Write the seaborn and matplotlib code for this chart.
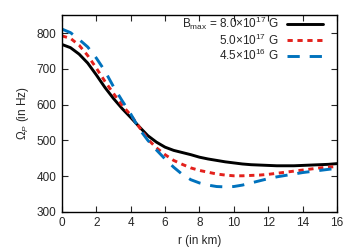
"""Rotation frequency profile for different central magnetic fields."""

import matplotlib

matplotlib.use("Agg")
import matplotlib.pyplot as plt
import pandas as pd
import seaborn as sns

# Radius samples (km), every 0.5 km
r_km = [i * 0.5 for i in range(33)]

# Omega_P (Hz)
omega_8e17 = [768, 759, 741, 716, 683, 648, 617, 589, 564, 538, 513, 495, 481,
              472, 466, 460, 453, 448, 444, 440, 437, 434, 432, 431, 430, 429,
              429, 429, 430, 431, 432, 433, 435]
omega_5e17 = [792, 785, 766, 737, 702, 665, 631, 598, 571, 537, 503, 479, 460,
              444, 433, 423, 416, 411, 406, 403, 401, 401, 402, 403, 405, 408,
              411, 414, 417, 420, 423, 425, 427]
omega_45e16 = [811, 801, 782, 761, 730, 694, 650, 611, 574, 532, 500, 473, 448,
               425, 405, 390, 381, 375, 371, 370, 371, 375, 381, 387, 393, 398,
               402, 406, 410, 413, 416, 419, 422]

labels = [
    r"B$_{\rm max}$ = 8.0$\times$10$^{17}$ G",
    r"5.0$\times$10$^{17}$ G",
    r"4.5$\times$10$^{16}$ G",
]
colors = ["black", "#e3211c", "#0072bd"]

rows = []
for lab, vals in zip(labels, [omega_8e17, omega_5e17, omega_45e16]):
    for r, v in zip(r_km, vals):
        rows.append({"r": r, "omega": v, "field": lab})
df = pd.DataFrame(rows)

sns.set_style("ticks")
plt.rcParams["font.family"] = ["Liberation Sans", "DejaVu Sans"]
plt.rcParams["mathtext.fontset"] = "custom"
plt.rcParams["mathtext.rm"] = "Liberation Sans"
plt.rcParams["mathtext.it"] = "Liberation Sans:italic"

fig = plt.figure(figsize=(3.6, 2.52), dpi=100)
ax = fig.add_axes([0.172, 0.159, 0.764, 0.781])

sns.lineplot(
    data=df, x="r", y="omega", hue="field", style="field",
    palette=colors, dashes=["", (1.8, 1.6), (4.2, 3.4)],
    linewidth=2.1, ax=ax,
)

ax.set_xlim(0, 16)
ax.set_ylim(300, 850)
ax.set_xticks(range(0, 17, 2))
ax.set_yticks(range(300, 801, 100))
ax.tick_params(direction="in", top=True, right=True, length=4, width=0.8,
               labelsize=8.5, pad=4)
for s in ax.spines.values():
    s.set_linewidth(1.0)
    s.set_color("black")

ax.set_xlabel("r (in km)", fontsize=8.5)
ax.set_ylabel(r"$\Omega_P$ (in Hz)", fontsize=8.5)

ax.legend(loc="upper right", bbox_to_anchor=(0.95, 1.0), frameon=False,
          markerfirst=False, fontsize=8.5, handlelength=3.1, labelspacing=0.0,
          borderpad=0, borderaxespad=0, handletextpad=0.65)

fig.savefig("out.png", dpi=100)
